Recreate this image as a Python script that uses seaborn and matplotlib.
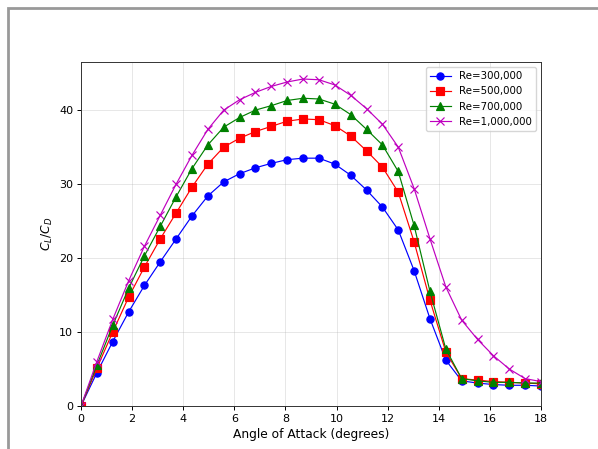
import numpy as np
import pandas as pd
import matplotlib
matplotlib.use("Agg")
import matplotlib.pyplot as plt
from matplotlib.patches import Rectangle
import seaborn as sns

# Angle of attack sweep (degrees)
alpha = np.linspace(0, 18, 30)

clcd_re300k = [0.0, 4.5, 8.7, 12.7, 16.3, 19.5, 22.6, 25.7, 28.4, 30.3,
               31.4, 32.2, 32.8, 33.3, 33.5, 33.5, 32.7, 31.2, 29.2, 26.9,
               23.8, 18.3, 11.8, 6.2, 3.4, 3.1, 2.9, 2.8, 2.8, 2.7]
clcd_re500k = [0.0, 5.1, 10.0, 14.7, 18.8, 22.6, 26.1, 29.6, 32.7, 35.0,
               36.2, 37.1, 37.8, 38.5, 38.8, 38.7, 37.9, 36.5, 34.5, 32.3,
               28.9, 22.2, 14.3, 7.3, 3.7, 3.5, 3.3, 3.2, 3.1, 3.0]
clcd_re700k = [0.0, 5.5, 10.9, 15.9, 20.3, 24.3, 28.3, 32.1, 35.3, 37.7,
               39.0, 40.0, 40.6, 41.3, 41.6, 41.5, 40.8, 39.4, 37.4, 35.3,
               31.7, 24.4, 15.5, 7.7, 3.7, 3.4, 3.2, 3.2, 3.1, 3.1]
clcd_re1m = [0.0, 6.0, 11.7, 16.9, 21.6, 25.8, 30.0, 33.9, 37.4, 40.0,
             41.4, 42.4, 43.2, 43.8, 44.2, 44.1, 43.4, 42.0, 40.2, 38.1,
             35.0, 29.4, 22.6, 16.1, 11.6, 9.0, 6.8, 5.0, 3.7, 3.3]

labels = ["Re=300,000", "Re=500,000", "Re=700,000", "Re=1,000,000"]
series = [clcd_re300k, clcd_re500k, clcd_re700k, clcd_re1m]
colors = ["blue", "red", "green", "m"]
markers = ["o", "s", "^", "x"]

df = pd.concat(
    [pd.DataFrame({"alpha": alpha, "clcd": vals, "Re": lab})
     for lab, vals in zip(labels, series)],
    ignore_index=True,
)

plt.rcParams.update({
    "axes.linewidth": 0.7,
    "xtick.major.size": 2.8,
    "ytick.major.size": 2.8,
    "xtick.major.width": 0.7,
    "ytick.major.width": 0.7,
    "xtick.major.pad": 2.8,
    "ytick.major.pad": 2.8,
})

fig = plt.figure(figsize=(5.98, 4.49), dpi=100)
fig.patches.append(Rectangle((8 / 598, -0.1), 1.2, (449 - 8) / 449 + 0.1,
                             transform=fig.transFigure, fill=False,
                             edgecolor="#999999", linewidth=2.0))
ax = fig.add_axes([81 / 598, 1 - 406 / 449, 460 / 598, 344 / 449])

for lab, col, mk in zip(labels, colors, markers):
    sub = df[df["Re"] == lab]
    sns.lineplot(data=sub, x="alpha", y="clcd", ax=ax, color=col, marker=mk,
                 markersize=5.2, linewidth=0.85, markeredgecolor=col,
                 markeredgewidth=0.85, label=lab, estimator=None)

ax.set_xlim(0, 18)
ax.set_ylim(0, 46.5)
ax.set_xticks(range(0, 19, 2))
ax.set_yticks(range(0, 41, 10))
ax.tick_params(labelsize=8)
ax.grid(True, alpha=0.3, linewidth=0.7)
ax.set_xlabel("Angle of Attack (degrees)", fontsize=8.8, labelpad=3)
ax.set_ylabel("$C_L/C_D$", fontsize=8.8, labelpad=3)
for s in ax.spines.values():
    s.set_color("#333333")
ax.legend(loc="upper right", fontsize=7.4)

fig.savefig("out.png", dpi=100)
